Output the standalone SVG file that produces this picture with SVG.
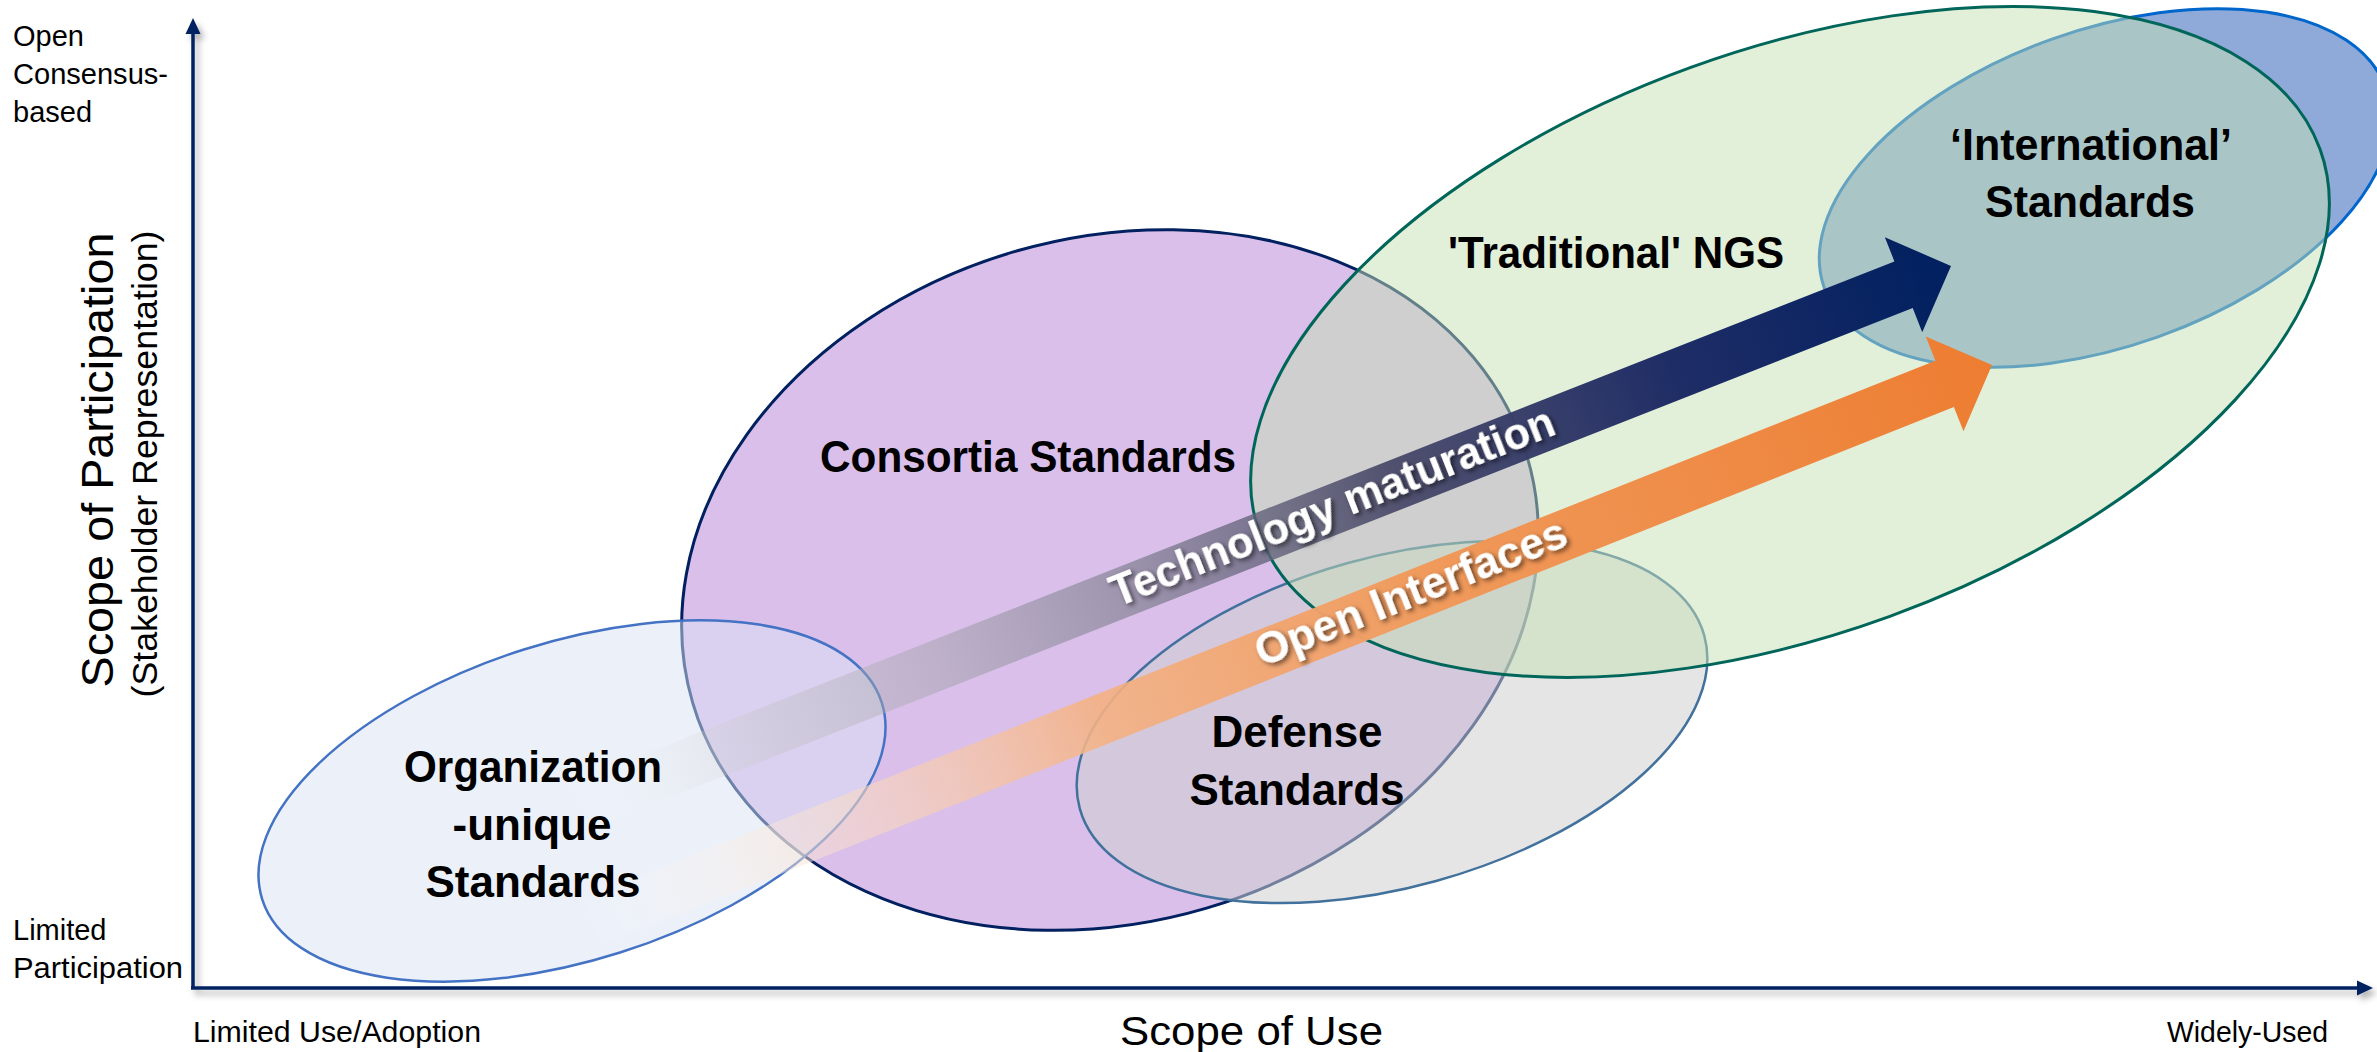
<svg xmlns="http://www.w3.org/2000/svg" width="2377" height="1052" viewBox="0 0 2377 1052">
<defs>
<style>
.lbl{font-family:"Liberation Sans",Arial,sans-serif;font-weight:bold;font-size:44px;fill:#000;text-anchor:middle}
.ax{font-family:"Liberation Sans",Arial,sans-serif;font-size:29px;fill:#000}
.title{font-family:"Liberation Sans",Arial,sans-serif;fill:#000}
.arrtxt{font-family:"Liberation Sans",Arial,sans-serif;font-weight:bold;font-size:44px;fill:#fff;text-anchor:middle}
.axis{stroke:#002060;stroke-width:3.5;fill:none}
</style>
<filter id="axsh" x="-5%" y="-5%" width="110%" height="110%">
<feDropShadow dx="4" dy="5" stdDeviation="3" flood-color="#000" flood-opacity="0.3"/>
</filter>
<filter id="txsh" x="-10%" y="-30%" width="120%" height="160%">
<feDropShadow dx="2" dy="3" stdDeviation="2.5" flood-color="#000" flood-opacity="0.6"/>
</filter>
<linearGradient id="gTech" gradientUnits="userSpaceOnUse" x1="-1490" y1="0" x2="0" y2="0">
<stop offset="0" stop-color="#ffffff" stop-opacity="0"/>
<stop offset="0.15" stop-color="#c0c0c0" stop-opacity="0.35"/>
<stop offset="0.4" stop-color="#807f8f" stop-opacity="0.65"/>
<stop offset="0.6" stop-color="#4a4a6a" stop-opacity="0.95"/>
<stop offset="0.8" stop-color="#1f2d66" stop-opacity="1"/>
<stop offset="1" stop-color="#002060" stop-opacity="1"/>
</linearGradient>
<linearGradient id="gOpen" gradientUnits="userSpaceOnUse" x1="-1518" y1="0" x2="0" y2="0">
<stop offset="0" stop-color="#ffffff" stop-opacity="0"/>
<stop offset="0.15" stop-color="#fbe5d6" stop-opacity="0.5"/>
<stop offset="0.37" stop-color="#f4b183" stop-opacity="0.9"/>
<stop offset="0.6" stop-color="#f09a5c" stop-opacity="1"/>
<stop offset="1" stop-color="#ed7d31" stop-opacity="1"/>
</linearGradient>
</defs>

<g id="axes" filter="url(#axsh)">
<line class="axis" x1="193" y1="988" x2="193" y2="32"/>
<polygon points="193,18 185.5,34 200.5,34" fill="#002060"/>
<line class="axis" x1="191" y1="988" x2="2358" y2="988"/>
<polygon points="2373,988 2357,980.5 2357,995.5" fill="#002060"/>
</g>

<g id="international">
<ellipse cx="2105" cy="188" rx="298" ry="158" transform="rotate(-19.6 2105 188)" fill="#8faad8" stroke="#0066cc" stroke-width="3"/>
</g>
<g id="consortia">
<ellipse cx="1110" cy="580" rx="435" ry="342" transform="rotate(-16.4 1110 580)" fill="#d9bfea" stroke="#002060" stroke-width="3"/>
</g>
<g id="defense">
<ellipse cx="1392" cy="722" rx="324" ry="165" transform="rotate(-15.5 1392 722)" fill="#d0d0d0" fill-opacity="0.55" stroke="#41719c" stroke-width="2.5"/>
</g>
<g id="traditional">
<ellipse cx="1790" cy="342" rx="564" ry="292" transform="rotate(-20 1790 342)" fill="#c5e0b4" fill-opacity="0.5" stroke="#00665a" stroke-width="3"/>
</g>
<g id="organization">
<ellipse cx="572" cy="801" rx="325" ry="159" transform="rotate(-17.6 572 801)" fill="#dae3f3" fill-opacity="0.5" stroke="#4472c4" stroke-width="2.5"/>
</g>

<g id="connectors">
<g id="tech-arrow" transform="translate(1951 266) rotate(-21.5)">
<polygon points="0,0 -51,-51 -51,-25 -1490,-25 -1490,25 -51,25 -51,51" fill="url(#gTech)"/>
<text class="arrtxt" x="-664" y="12" textLength="474" lengthAdjust="spacingAndGlyphs" filter="url(#txsh)">Technology maturation</text>
</g>
<g id="open-arrow" transform="translate(1992 365) rotate(-21.7)">
<polygon points="0,0 -51,-51 -51,-25 -1518,-25 -1518,25 -51,25 -51,51" fill="url(#gOpen)"/>
<text class="arrtxt" x="-624" y="11" textLength="332" lengthAdjust="spacingAndGlyphs" filter="url(#txsh)">Open Interfaces</text>
</g>
</g>

<g id="labels">
<text class="lbl" x="533" y="782" textLength="258" lengthAdjust="spacingAndGlyphs">Organization</text>
<text class="lbl" x="532" y="840">-unique</text>
<text class="lbl" x="533" y="897">Standards</text>
<text class="lbl" x="1028" y="472" textLength="416" lengthAdjust="spacingAndGlyphs">Consortia Standards</text>
<text class="lbl" x="1297" y="747">Defense</text>
<text class="lbl" x="1297" y="805">Standards</text>
<text class="lbl" x="1616" y="268" textLength="336" lengthAdjust="spacingAndGlyphs">'Traditional' NGS</text>
<text class="lbl" x="2091" y="160" textLength="282" lengthAdjust="spacingAndGlyphs">‘International’</text>
<text class="lbl" x="2090" y="217" textLength="210" lengthAdjust="spacingAndGlyphs">Standards</text>
</g>

<g id="axis-labels">
<text class="ax" x="13" y="46">Open</text>
<text class="ax" x="13" y="84" textLength="155" lengthAdjust="spacingAndGlyphs">Consensus-</text>
<text class="ax" x="13" y="122">based</text>
<text class="ax" x="13" y="940">Limited</text>
<text class="ax" x="13" y="978" textLength="170" lengthAdjust="spacingAndGlyphs">Participation</text>
<text class="ax" x="193" y="1042" textLength="288" lengthAdjust="spacingAndGlyphs">Limited Use/Adoption</text>
<text class="ax" x="2167" y="1042" textLength="161" lengthAdjust="spacingAndGlyphs">Widely-Used</text>
<text class="title" x="1120" y="1045" font-size="41" textLength="263" lengthAdjust="spacingAndGlyphs">Scope of Use</text>
<text class="title" font-size="44" text-anchor="middle" transform="translate(113 460) rotate(-90)" textLength="455" lengthAdjust="spacingAndGlyphs">Scope of Participation</text>
<text class="title" font-size="35" text-anchor="middle" transform="translate(157 464) rotate(-90)" textLength="467" lengthAdjust="spacingAndGlyphs">(Stakeholder Representation)</text>
</g>
</svg>
